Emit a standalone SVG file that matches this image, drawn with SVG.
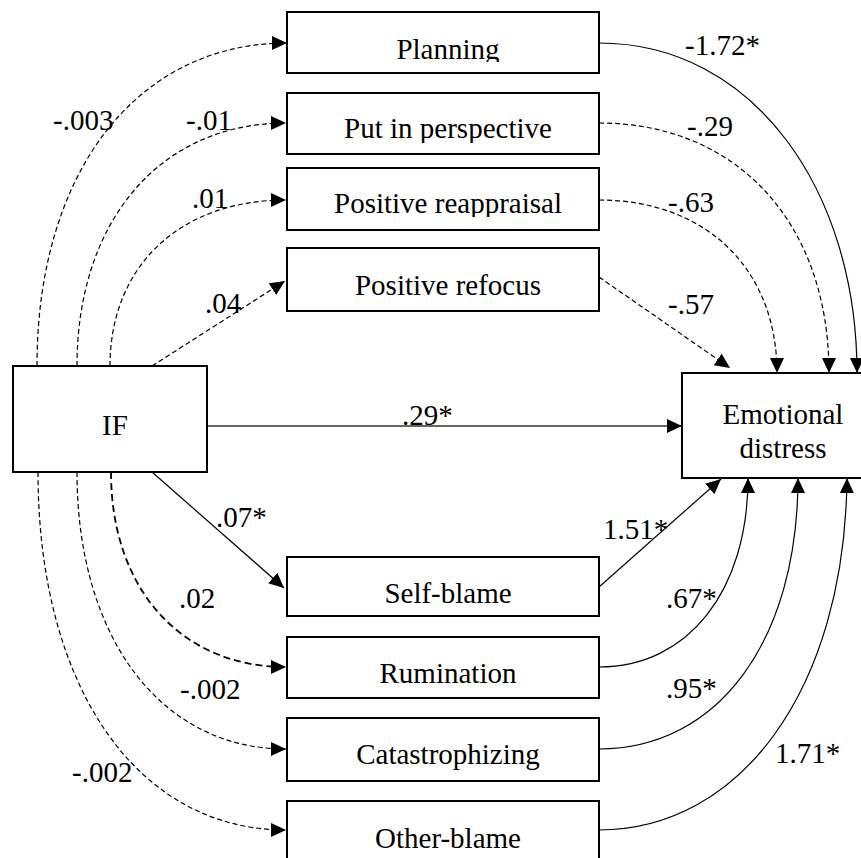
<svg xmlns="http://www.w3.org/2000/svg" width="861" height="858" viewBox="0 0 861 858" font-family="Liberation Serif, Times New Roman, serif">
<style>
  .box { fill: #fff; stroke: #000; stroke-width: 2; }
  .t { font-size: 29px; fill: #000; }
  .c { text-anchor: middle; }
  .ln { fill: none; stroke: #000; stroke-width: 1.2; }
  .d { stroke-dasharray: 5 3; }
  .d2 { stroke-dasharray: 7 4; stroke-width: 1.8; }
  .h { stroke: #333; stroke-width: 1.5; }
</style>
<defs>
  <marker id="ah" markerUnits="userSpaceOnUse" markerWidth="16" markerHeight="15" refX="15" refY="7" orient="auto">
    <path d="M0,0 L15,7 L0,14 z" fill="#000" stroke="none"/>
  </marker>
  <clipPath id="cp1"><rect x="287" y="12" width="312" height="50"/></clipPath>
  <clipPath id="cp2"><rect x="287" y="93" width="312" height="50"/></clipPath>
  <clipPath id="cp3"><rect x="287" y="168" width="312" height="49"/></clipPath>
  <clipPath id="cp7"><rect x="287" y="718" width="312" height="52"/></clipPath>
</defs>

<g id="connectors">
  <path class="ln d" d="M37,366 C37,172 137,43 287,43" marker-end="url(#ah)"/>
  <path class="ln d" d="M77,366 C77,220 161,123 286,123" marker-end="url(#ah)"/>
  <path class="ln d" d="M110,366 C110,266 180,200 286,200" marker-end="url(#ah)"/>
  <path class="ln d" d="M152,366 L285,281" marker-end="url(#ah)"/>
  <path class="ln" d="M152,472 L284,588" marker-end="url(#ah)"/>
  <path class="ln d2" d="M111,472 C111,589 181,667 286,667" marker-end="url(#ah)"/>
  <path class="ln d" d="M77,472 C77,638 161,749 286,749" marker-end="url(#ah)"/>
  <path class="ln d" d="M38,472 C38,687 137,830 286,830" marker-end="url(#ah)"/>
  <path class="ln h" d="M207,426 L682,426" marker-end="url(#ah)"/>
  <path class="ln" d="M599,43 C754,43 857,191 857,373" marker-end="url(#ah)"/>
  <path class="ln d" d="M599,123 C737,123 829,223 829,373" marker-end="url(#ah)"/>
  <path class="ln d" d="M599,200 C706,200 777,269 777,373" marker-end="url(#ah)"/>
  <path class="ln d" d="M599,277 L730,368" marker-end="url(#ah)"/>
  <path class="ln" d="M599,587 L721,479" marker-end="url(#ah)"/>
  <path class="ln" d="M599,667 C688,667 748,591 748,478" marker-end="url(#ah)"/>
  <path class="ln" d="M599,749 C718,749 798,641 798,478" marker-end="url(#ah)"/>
  <path class="ln" d="M599,830 C740,830 845,690 847,478" marker-end="url(#ah)"/>
</g>

<g id="labels">
  <text class="t" x="53" y="130">-.003</text>
  <text class="t" x="186" y="130">-.01</text>
  <text class="t" x="192" y="208">.01</text>
  <text class="t" x="205" y="313">.04</text>
  <text class="t" x="402" y="425">.29*</text>
  <text class="t" x="216" y="527">.07*</text>
  <text class="t" x="179" y="608">.02</text>
  <text class="t" x="180" y="699">-.002</text>
  <text class="t" x="72" y="782">-.002</text>
  <text class="t" x="685" y="55">-1.72*</text>
  <text class="t" x="687" y="136">-.29</text>
  <text class="t" x="668" y="212">-.63</text>
  <text class="t" x="668" y="314">-.57</text>
  <text class="t" x="603" y="539">1.51*</text>
  <text class="t" x="666" y="608">.67*</text>
  <text class="t" x="666" y="698">.95*</text>
  <text class="t" x="775" y="763">1.71*</text>
</g>

<g id="node-if">
  <rect class="box" x="13" y="366" width="194" height="106"/>
  <text class="t c" x="115" y="435">IF</text>
</g>
<g id="node-ed">
  <rect class="box" x="682" y="373" width="190" height="105"/>
  <text class="t c" x="783" y="424">Emotional</text>
  <text class="t c" x="783" y="458">distress</text>
</g>
<g id="node-planning">
  <rect class="box" x="287" y="12" width="312" height="61"/>
  <text class="t c" x="448" y="59" clip-path="url(#cp1)">Planning</text>
</g>
<g id="node-perspective">
  <rect class="box" x="287" y="93" width="312" height="61"/>
  <text class="t c" x="448" y="138" clip-path="url(#cp2)">Put in perspective</text>
</g>
<g id="node-reappraisal">
  <rect class="box" x="287" y="168" width="312" height="62"/>
  <text class="t c" x="448" y="213" clip-path="url(#cp3)">Positive reappraisal</text>
</g>
<g id="node-refocus">
  <rect class="box" x="287" y="248" width="312" height="63"/>
  <text class="t c" x="448" y="295">Positive refocus</text>
</g>
<g id="node-selfblame">
  <rect class="box" x="287" y="557" width="312" height="59"/>
  <text class="t c" x="448" y="603">Self-blame</text>
</g>
<g id="node-rumination">
  <rect class="box" x="287" y="637" width="312" height="61"/>
  <text class="t c" x="448" y="683">Rumination</text>
</g>
<g id="node-catastrophizing">
  <rect class="box" x="287" y="718" width="312" height="63"/>
  <text class="t c" x="448" y="764" clip-path="url(#cp7)">Catastrophizing</text>
</g>
<g id="node-otherblame">
  <rect class="box" x="287" y="801" width="312" height="70"/>
  <text class="t c" x="448" y="848">Other-blame</text>
</g>
</svg>
